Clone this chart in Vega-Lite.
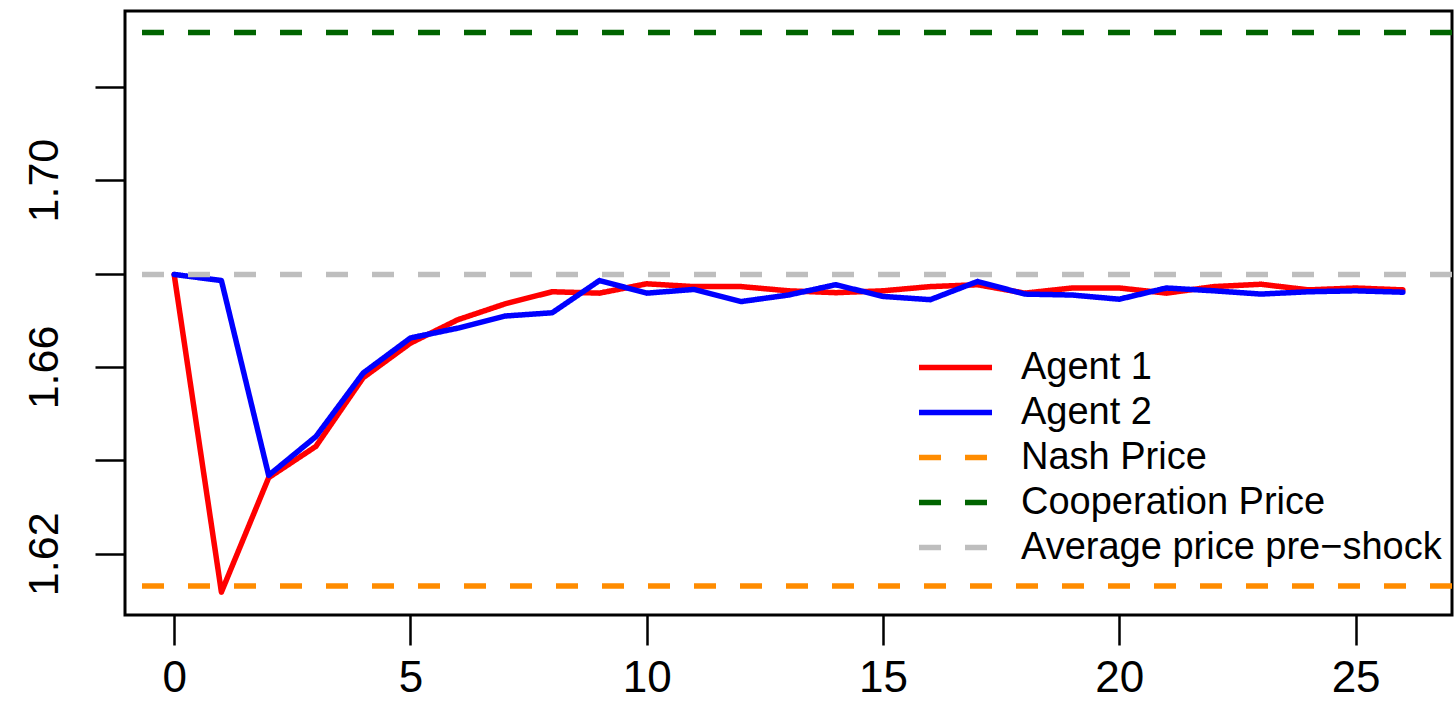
{
  "$schema": "https://vega.github.io/schema/vega-lite/v6.json",
  "width": 1327,
  "height": 604,
  "autosize": {"type": "none"},
  "padding": {"left": 125, "top": 11, "right": 3, "bottom": 106},
  "background": "white",
  "config": {
    "view": {"stroke": "black", "strokeWidth": 3},
    "font": "Liberation Sans"
  },
  "datasets": {
    "prices": [
      {"t": 0, "series": "Agent 1", "price": 1.6798},
      {"t": 1, "series": "Agent 1", "price": 1.6118},
      {"t": 2, "series": "Agent 1", "price": 1.6363},
      {"t": 3, "series": "Agent 1", "price": 1.6430},
      {"t": 4, "series": "Agent 1", "price": 1.6577},
      {"t": 5, "series": "Agent 1", "price": 1.6651},
      {"t": 6, "series": "Agent 1", "price": 1.6701},
      {"t": 7, "series": "Agent 1", "price": 1.6735},
      {"t": 8, "series": "Agent 1", "price": 1.6761},
      {"t": 9, "series": "Agent 1", "price": 1.6758},
      {"t": 10, "series": "Agent 1", "price": 1.6778},
      {"t": 11, "series": "Agent 1", "price": 1.6772},
      {"t": 12, "series": "Agent 1", "price": 1.6772},
      {"t": 13, "series": "Agent 1", "price": 1.6763},
      {"t": 14, "series": "Agent 1", "price": 1.6759},
      {"t": 15, "series": "Agent 1", "price": 1.6763},
      {"t": 16, "series": "Agent 1", "price": 1.6772},
      {"t": 17, "series": "Agent 1", "price": 1.6776},
      {"t": 18, "series": "Agent 1", "price": 1.6758},
      {"t": 19, "series": "Agent 1", "price": 1.6769},
      {"t": 20, "series": "Agent 1", "price": 1.6769},
      {"t": 21, "series": "Agent 1", "price": 1.6758},
      {"t": 22, "series": "Agent 1", "price": 1.6772},
      {"t": 23, "series": "Agent 1", "price": 1.6777},
      {"t": 24, "series": "Agent 1", "price": 1.6765},
      {"t": 25, "series": "Agent 1", "price": 1.6769},
      {"t": 26, "series": "Agent 1", "price": 1.6765},
      {"t": 0, "series": "Agent 2", "price": 1.6798},
      {"t": 1, "series": "Agent 2", "price": 1.6785},
      {"t": 2, "series": "Agent 2", "price": 1.6368},
      {"t": 3, "series": "Agent 2", "price": 1.6451},
      {"t": 4, "series": "Agent 2", "price": 1.6587},
      {"t": 5, "series": "Agent 2", "price": 1.6662},
      {"t": 6, "series": "Agent 2", "price": 1.6683},
      {"t": 7, "series": "Agent 2", "price": 1.6709},
      {"t": 8, "series": "Agent 2", "price": 1.6716},
      {"t": 9, "series": "Agent 2", "price": 1.6785},
      {"t": 10, "series": "Agent 2", "price": 1.6758},
      {"t": 11, "series": "Agent 2", "price": 1.6766},
      {"t": 12, "series": "Agent 2", "price": 1.6740},
      {"t": 13, "series": "Agent 2", "price": 1.6754},
      {"t": 14, "series": "Agent 2", "price": 1.6776},
      {"t": 15, "series": "Agent 2", "price": 1.6751},
      {"t": 16, "series": "Agent 2", "price": 1.6744},
      {"t": 17, "series": "Agent 2", "price": 1.6783},
      {"t": 18, "series": "Agent 2", "price": 1.6756},
      {"t": 19, "series": "Agent 2", "price": 1.6754},
      {"t": 20, "series": "Agent 2", "price": 1.6745},
      {"t": 21, "series": "Agent 2", "price": 1.6769},
      {"t": 22, "series": "Agent 2", "price": 1.6763},
      {"t": 23, "series": "Agent 2", "price": 1.6756},
      {"t": 24, "series": "Agent 2", "price": 1.6761},
      {"t": 25, "series": "Agent 2", "price": 1.6763},
      {"t": 26, "series": "Agent 2", "price": 1.6760}
    ],
    "refs": [
      {"series": "Nash Price", "price": 1.6131},
      {"series": "Cooperation Price", "price": 1.7316},
      {"series": "Average price pre−shock", "price": 1.6798}
    ]
  },
  "layer": [
    {
      "data": {"name": "prices"},
      "mark": {"type": "line", "strokeWidth": 5.5, "strokeJoin": "round", "strokeCap": "round", "clip": true},
      "encoding": {
        "x": {
          "field": "t", "type": "quantitative",
          "scale": {"domain": [-1.04, 27.04], "nice": false, "zero": false},
          "axis": {
            "values": [0, 5, 10, 15, 20, 25], "title": null, "domain": false, "grid": false,
            "tickSize": 30, "tickWidth": 2.5, "tickColor": "black",
            "labelFontSize": 44, "labelColor": "black", "labelBaseline": "alphabetic",
            "labelPadding": 46, "labelFlush": false, "labelOverlap": false
          }
        },
        "y": {
          "field": "price", "type": "quantitative",
          "scale": {"domain": [1.6069, 1.7362], "nice": false, "zero": false},
          "axis": {
            "values": [1.62, 1.64, 1.66, 1.68, 1.70, 1.72], "title": null, "domain": false, "grid": false,
            "tickSize": 30, "tickWidth": 2.5, "tickColor": "black",
            "labelFontSize": 43, "labelColor": "black", "labelAngle": 270,
            "labelAlign": "center", "labelBaseline": "alphabetic", "labelPadding": 38,
            "labelOverlap": false,
            "labelExpr": "indexof(['1.62','1.66','1.70'], format(datum.value, '.2f')) >= 0 ? format(datum.value, '.2f') : ''"
          }
        },
        "color": {
          "field": "series", "type": "nominal",
          "scale": {
            "domain": ["Agent 1", "Agent 2", "Nash Price", "Cooperation Price", "Average price pre−shock"],
            "range": ["#FF0000", "#0000FF", "#FF8C00", "#006400", "#BEBEBE"]
          },
          "legend": {
            "title": null, "orient": "none", "legendX": 791, "legendY": 334,
            "symbolType": "stroke", "symbolStrokeWidth": 5.5, "symbolSize": 5329,
            "labelFontSize": 38, "labelColor": "black", "labelOffset": 26, "labelLimit": 0,
            "clipHeight": 45, "rowPadding": 0, "padding": 0
          }
        },
        "strokeDash": {
          "field": "series", "type": "nominal",
          "scale": {
            "domain": ["Agent 1", "Agent 2", "Nash Price", "Cooperation Price", "Average price pre−shock"],
            "range": [[1, 0], [1, 0], [22, 24], [22, 24], [22, 24]]
          },
          "legend": null
        }
      }
    },
    {
      "data": {"name": "refs"},
      "mark": {"type": "rule", "strokeWidth": 5.5},
      "encoding": {
        "y": {"field": "price", "type": "quantitative"},
        "color": {"field": "series", "type": "nominal"},
        "strokeDash": {"field": "series", "type": "nominal"}
      }
    }
  ]
}
